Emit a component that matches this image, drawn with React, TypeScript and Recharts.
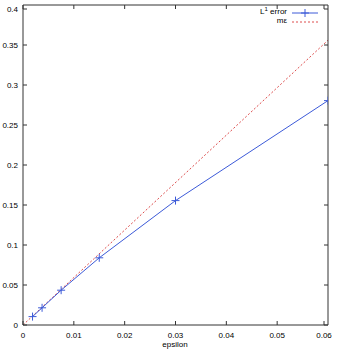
import { LineChart, Line, XAxis, YAxis } from 'recharts';

const epsilonValues = [0.001875, 0.00375, 0.0075, 0.015, 0.03, 0.06];
const l1Errors = [0.0105, 0.0215, 0.0435, 0.084, 0.1555, 0.2805];
const refEpsilon = [0, 0.06];
const refValues = [0, 0.356];
const xTicks = [0, 0.01, 0.02, 0.03, 0.04, 0.05, 0.06];
const yTicks = [0, 0.05, 0.1, 0.15, 0.2, 0.25, 0.3, 0.35, 0.4];

const errorData = epsilonValues.map((e, i) => ({ eps: e, err: l1Errors[i] }));
const refData = refEpsilon.map((e, i) => ({ eps: e, ref: refValues[i] }));

const FONT = '"Liberation Sans", Arial, sans-serif';
const BLUE = '#3c5ad8';
const RED = '#dd4c4c';
const AXIS = '#333';

const fmt = (v: number) => String(Number(v.toFixed(3)));

const BottomTick = (props: any) => {
  const { x, y, payload } = props;
  return (
    <g>
      <line x1={x} y1={y} x2={x} y2={y - 4} stroke={AXIS} />
      <text x={x} y={y + 13} textAnchor="middle" fontSize={8} fontFamily={FONT} fill="#000">
        {fmt(payload.value)}
      </text>
    </g>
  );
};

const TopTick = (props: any) => {
  const { x, y } = props;
  return <line x1={x} y1={y} x2={x} y2={y + 4} stroke={AXIS} />;
};

const LeftTick = (props: any) => {
  const { x, y, payload } = props;
  return (
    <g>
      <line x1={x} y1={y} x2={x + 4} y2={y} stroke={AXIS} />
      <text x={x - 5} y={y + 3} textAnchor="end" fontSize={8} fontFamily={FONT} fill="#000">
        {fmt(payload.value)}
      </text>
    </g>
  );
};

const RightTick = (props: any) => {
  const { x, y } = props;
  return <line x1={x} y1={y} x2={x - 4} y2={y} stroke={AXIS} />;
};

const PlusDot = (props: any) => {
  const { cx, cy, index } = props;
  if (cx == null || cy == null) return null;
  return (
    <g key={'p' + index}>
      <line x1={cx - 4} y1={cy} x2={cx + 4} y2={cy} stroke={BLUE} strokeWidth={1} />
      <line x1={cx} y1={cy - 4} x2={cx} y2={cy + 4} stroke={BLUE} strokeWidth={1} />
    </g>
  );
};

export default function App() {
  return (
    <div style={{ position: 'absolute', left: 0, top: 0, width: 338, height: 353, background: '#fff' }}>
      <LineChart width={338} height={353} margin={{ top: 0, right: 0, bottom: 0, left: 0 }}>
        <XAxis
          xAxisId="b"
          dataKey="eps"
          type="number"
          domain={[0, 0.06]}
          ticks={xTicks}
          height={28}
          tickSize={0}
          tickMargin={0}
          tick={<BottomTick />}
          stroke={AXIS}
          allowDataOverflow
        />
        <XAxis
          xAxisId="t"
          orientation="top"
          dataKey="eps"
          type="number"
          domain={[0, 0.06]}
          ticks={xTicks}
          height={5}
          tickSize={0}
          tickMargin={0}
          tick={<TopTick />}
          stroke={AXIS}
          allowDataOverflow
        />
        <YAxis
          yAxisId="l"
          type="number"
          domain={[0, 0.4]}
          ticks={yTicks}
          width={23}
          tickSize={0}
          tickMargin={0}
          tick={<LeftTick />}
          stroke={AXIS}
          allowDataOverflow
        />
        <YAxis
          yAxisId="r"
          orientation="right"
          type="number"
          domain={[0, 0.4]}
          ticks={yTicks}
          width={10}
          tickSize={0}
          tickMargin={0}
          tick={<RightTick />}
          stroke={AXIS}
          allowDataOverflow
        />
        <Line
          xAxisId="b"
          yAxisId="l"
          data={refData}
          dataKey="ref"
          type="linear"
          stroke={RED}
          strokeWidth={1}
          strokeDasharray="2 2"
          dot={false}
          isAnimationActive={false}
        />
        <Line
          xAxisId="b"
          yAxisId="l"
          data={errorData}
          dataKey="err"
          type="linear"
          stroke={BLUE}
          strokeWidth={1}
          dot={<PlusDot />}
          isAnimationActive={false}
        />
      </LineChart>
      <div
        style={{
          position: 'absolute',
          left: 165,
          top: 341,
          width: 20,
          display: 'flex',
          justifyContent: 'center',
          fontFamily: FONT,
          fontSize: 8,
          lineHeight: '8px',
        }}
      >
        epsilon
      </div>
      <div
        style={{
          position: 'absolute',
          right: 338 - 287,
          top: 7,
          textAlign: 'right',
          fontFamily: FONT,
          fontSize: 8,
          lineHeight: '9px',
          whiteSpace: 'nowrap',
        }}
      >
        <div>
          L<sup style={{ fontSize: 6, verticalAlign: 'top', position: 'relative', top: -2 }}>1</sup> error
        </div>
        <div>mε</div>
      </div>
      <svg style={{ position: 'absolute', left: 0, top: 0 }} width={338} height={40}>
        <line x1={292} y1={13} x2={318} y2={13} stroke={BLUE} />
        <line x1={301} y1={13} x2={309} y2={13} stroke={BLUE} />
        <line x1={305} y1={9} x2={305} y2={17} stroke={BLUE} />
        <line x1={292} y1={22} x2={318} y2={22} stroke={RED} strokeDasharray="2 2" />
      </svg>
    </div>
  );
}
